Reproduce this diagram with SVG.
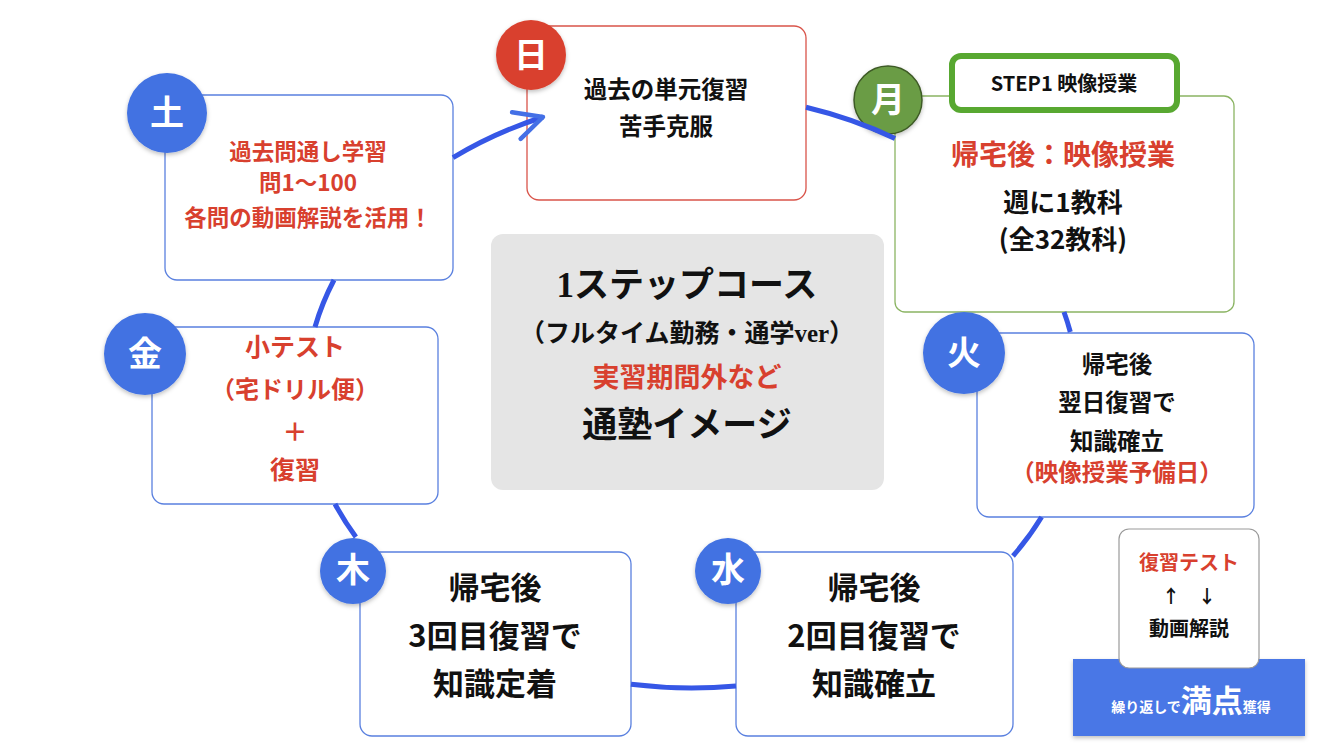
<svg xmlns="http://www.w3.org/2000/svg" width="1334" height="750" viewBox="0 0 1334 750">
<style>
.box{fill:#fff;stroke:#5a80df;stroke-width:1.3}
.t{font-family:"Noto Sans CJK JP","Noto Sans",sans-serif;font-weight:bold;text-anchor:middle}
.blk{fill:#111}
.red{fill:#d8402e}
.day{fill:#fff;font-family:"Noto Sans CJK JP",sans-serif;font-weight:bold;font-size:34px;text-anchor:middle}
.bc{fill:#4272e2}
.con{fill:none;stroke:#3657e6;stroke-width:5;stroke-linecap:butt}
.ser{font-family:"Liberation Serif","Noto Sans CJK JP",serif;font-weight:bold;text-anchor:middle}
</style>
<defs>
<filter id="sh" x="-20%" y="-20%" width="140%" height="140%"><feDropShadow dx="0" dy="2" stdDeviation="2" flood-color="#000" flood-opacity="0.25"/></filter>
<marker id="chev" markerUnits="userSpaceOnUse" markerWidth="40" markerHeight="40" viewBox="-34 -20 40 40" refX="0" refY="0" orient="auto">
<path d="M-28,-14 L0,0 L-28,14" fill="none" stroke="#4470e6" stroke-width="4.5" stroke-linecap="round" stroke-linejoin="round"/>
</marker>
</defs>
<rect width="1334" height="750" fill="#fff"/>

<g id="center">
<rect x="491" y="234" width="393" height="256" rx="12" fill="#e5e5e5"/>
<text class="ser blk" x="687" y="297" font-size="35">1ステップコース</text>
<text class="ser blk" x="687" y="342" font-size="25">（フルタイム勤務・通学ver）</text>
<text class="ser red" x="687" y="387" font-size="27">実習期間外など</text>
<text class="ser blk" x="687" y="437" font-size="35">通塾イメージ</text>
</g>

<g id="sat">
<rect class="box" x="165" y="95" width="288" height="185" rx="12"/>
<circle class="bc" cx="167" cy="113" r="40" filter="url(#sh)"/>
<text class="day" x="167" y="125">土</text>
<text class="t red" x="308" y="160" font-size="22.5">過去問通し学習</text>
<text class="t red" x="308" y="191" font-size="22.5">問1〜100</text>
<text class="t red" x="308" y="226" font-size="22.5">各問の動画解説を活用！</text>
</g>

<g id="sun">
<rect x="527" y="26" width="279" height="174" rx="12" fill="#fff" stroke="#d9544a" stroke-width="1.3"/>
<circle cx="531" cy="55" r="35" fill="#d9412f" filter="url(#sh)"/>
<text class="day" x="531" y="67">日</text>
<text class="t blk" x="666" y="98" font-size="23.5">過去の単元復習</text>
<text class="t blk" x="666" y="135" font-size="23.5">苦手克服</text>
</g>

<g id="mon">
<rect x="895" y="96" width="339" height="216" rx="10" fill="#fff" stroke="#8bb463" stroke-width="1.3"/>
<circle cx="888" cy="100" r="34" fill="#6b9c45" stroke="#3d5a25" stroke-width="1.5" filter="url(#sh)"/>
<text class="day" x="888" y="112">月</text>
<rect x="952" y="56" width="225" height="54" rx="9" fill="#fff" stroke="#58a831" stroke-width="6"/>
<text class="t blk" x="1064" y="91" font-size="20" font-weight="500">STEP1 映像授業</text>
<text class="t red" x="1063" y="165" font-size="28">帰宅後：映像授業</text>
<text class="t blk" x="1063" y="212" font-size="26">週に1教科</text>
<text class="t blk" x="1063" y="249" font-size="26">(全32教科)</text>
</g>

<g id="tue">
<rect class="box" x="977" y="333" width="277" height="184" rx="12"/>
<circle class="bc" cx="964" cy="353" r="41" filter="url(#sh)"/>
<text class="day" x="964" y="365">火</text>
<text class="t blk" x="1117" y="373" font-size="23.5">帰宅後</text>
<text class="t blk" x="1117" y="411" font-size="23.5">翌日復習で</text>
<text class="t blk" x="1117" y="450" font-size="23.5">知識確立</text>
<text class="t red" x="1117" y="481" font-size="23.5">（映像授業予備日）</text>
</g>

<g id="fri">
<rect class="box" x="152" y="327" width="286" height="177" rx="12"/>
<circle class="bc" cx="145" cy="354" r="41" filter="url(#sh)"/>
<text class="day" x="145" y="366">金</text>
<text class="t red" x="295" y="356" font-size="25">小テスト</text>
<text class="t red" x="295" y="398" font-size="24">（宅ドリル便）</text>
<text class="t red" x="295" y="441" font-size="25">＋</text>
<text class="t red" x="295" y="479" font-size="25">復習</text>
</g>

<g id="thu">
<rect class="box" x="360" y="552" width="271" height="184" rx="12"/>
<circle class="bc" cx="353" cy="571" r="33" filter="url(#sh)"/>
<text class="day" x="353" y="582" font-size="30">木</text>
<text class="t blk" x="495" y="599" font-size="31">帰宅後</text>
<text class="t blk" x="495" y="647" font-size="31">3回目復習で</text>
<text class="t blk" x="495" y="695" font-size="31">知識定着</text>
</g>

<g id="wed">
<rect class="box" x="736" y="552" width="277" height="184" rx="12"/>
<circle class="bc" cx="728" cy="571" r="33" filter="url(#sh)"/>
<text class="day" x="728" y="582" font-size="30">水</text>
<text class="t blk" x="874" y="599" font-size="31">帰宅後</text>
<text class="t blk" x="874" y="647" font-size="31">2回目復習で</text>
<text class="t blk" x="874" y="695" font-size="31">知識確立</text>
</g>

<g id="review">
<rect x="1073" y="659" width="232" height="77" fill="#4a77e6" filter="url(#sh)"/>
<rect x="1119" y="529" width="140" height="139" rx="10" fill="#fff" stroke="#9a9a9a" stroke-width="1.2"/>
<text class="t red" x="1189" y="570" font-size="20">復習テスト</text>
<text class="t blk" x="1189" y="603" font-size="18" font-weight="normal">↑　↓</text>
<text class="t blk" x="1189" y="636" font-size="20">動画解説</text>
<text class="t" x="1191" y="712" fill="#fff" font-size="14" font-weight="500">繰り返しで<tspan font-size="31" font-weight="bold">満点</tspan>獲得</text>
</g>

<g id="connectors">
<path class="con" d="M453,157.7 A386,297 0 0 1 543,117" marker-end="url(#chev)"/>
<path class="con" d="M806,107.2 A386,297 0 0 1 895,138.4"/>
<path class="con" d="M1064,312 A386,297 0 0 1 1070.3,332"/>
<path class="con" d="M1041.6,517 A386,297 0 0 1 1013,556"/>
<path class="con" d="M736,686 A386,297 0 0 1 631,684.3"/>
<path class="con" d="M335,504 A386,297 0 0 0 355.9,537"/>
<path class="con" d="M315,327 A386,297 0 0 1 334,280"/>
</g>
</svg>
